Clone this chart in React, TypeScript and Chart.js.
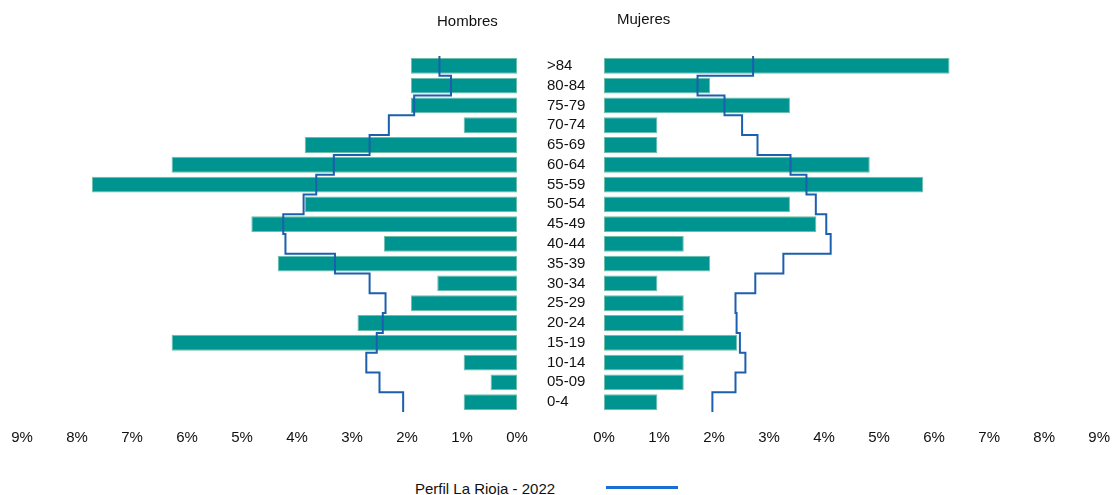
import React, { useEffect, useRef } from "react";
import { Chart, registerables } from "chart.js";

Chart.register(...registerables);

// Age groups, bottom to top
const categories = [
  "0-4", "05-09", "10-14", "15-19", "20-24", "25-29", "30-34", "35-39", "40-44",
  "45-49", "50-54", "55-59", "60-64", "65-69", "70-74", "75-79", "80-84", ">84",
];

// Percentages (bars)
const hombres = [0.97, 0.48, 0.97, 6.28, 2.9, 1.93, 1.45, 4.35, 2.42, 4.83, 3.86, 7.73, 6.28, 3.86, 0.97, 1.93, 1.93, 1.93];
const mujeres = [0.97, 1.45, 1.45, 2.42, 1.45, 1.45, 0.97, 1.93, 1.45, 3.86, 3.38, 5.8, 4.83, 0.97, 0.97, 3.38, 1.93, 6.28];

// Reference profile (La Rioja 2022)
const perfilHombres = [2.07, 2.5, 2.74, 2.55, 2.44, 2.39, 2.68, 3.31, 4.21, 4.25, 3.88, 3.65, 3.33, 2.68, 2.33, 1.87, 1.2, 1.41];
const perfilMujeres = [1.97, 2.39, 2.57, 2.47, 2.41, 2.39, 2.75, 3.26, 4.12, 4.04, 3.85, 3.68, 3.39, 2.79, 2.51, 2.19, 1.7, 2.71];

const xTicks = [0, 1, 2, 3, 4, 5, 6, 7, 8, 9];

const FONT = "'Liberation Sans', Arial, Helvetica, sans-serif";
const BAR_COLOR = "#009490";
const BAR_BORDER = "#6cbfa6";
const LINE_COLOR = "#1c5fae";
const LEGEND_LINE = "#1a6fd4";

function stepPoints(values: number[]) {
  const pts: { x: number; y: number }[] = [];
  values.forEach((v, i) => {
    pts.push({ x: v, y: i - 0.5 });
    pts.push({ x: v, y: i + 0.5 });
  });
  return pts;
}

function makeConfig(side: "left" | "right") {
  const bars = side === "left" ? hombres : mujeres;
  const perfil = side === "left" ? perfilHombres : perfilMujeres;
  return {
    type: "bar" as const,
    data: {
      datasets: [
        {
          type: "line" as const,
          label: "Perfil La Rioja - 2022",
          data: stepPoints(perfil),
          borderColor: LINE_COLOR,
          borderWidth: 2,
          pointRadius: 0,
          tension: 0,
          fill: false,
          order: 0,
          indexAxis: "y" as const,
        },
        {
          type: "bar" as const,
          label: side === "left" ? "Hombres" : "Mujeres",
          data: bars.map((v, i) => ({ x: v, y: i })),
          backgroundColor: BAR_COLOR,
          borderColor: BAR_BORDER,
          borderWidth: 1,
          borderSkipped: false,
          categoryPercentage: 0.8,
          barPercentage: 1,
          order: 1,
        },
      ],
    },
    options: {
      animation: false as const,
      responsive: false,
      indexAxis: "y" as const,
      layout: {
        padding: side === "left"
          ? { left: 22, right: 23, top: 56, bottom: 0 }
          : { left: 7, right: 13, top: 56, bottom: 0 },
      },
      plugins: {
        legend: { display: false },
        tooltip: { enabled: false },
        title: { display: false },
      },
      scales: {
        x: {
          type: "linear" as const,
          min: 0,
          max: 9,
          offset: false,
          reverse: side === "left",
          grid: { display: false, drawTicks: true, tickLength: 14, offset: false },
          border: { display: false },
          afterBuildTicks: (scale: any) => {
            scale.ticks = xTicks.map((v) => ({ value: v }));
          },
          ticks: {
            padding: 3,
            color: "#111",
            autoSkip: false,
            font: { family: FONT, size: 15 },
            maxRotation: 0,
            callback: (v: any) => `${v}%`,
          },
        },
        y: {
          type: "linear" as const,
          min: -0.5,
          max: 17.5,
          offset: false,
          display: side === "right",
          grid: { display: false, drawTicks: false, offset: false },
          border: { display: false },
          afterBuildTicks: (scale: any) => {
            scale.ticks = categories.map((_, i) => ({ value: i }));
          },
          afterFit: (scale: any) => {
            if (side === "right") scale.width = 57;
          },
          ticks: {
            padding: 0,
            autoSkip: false,
            crossAlign: "far" as const,
            color: "#111",
            font: { family: FONT, size: 15 },
            callback: (v: any) => categories[Math.round(v)] ?? "",
          },
        },
      },
    },
  };
}

function Panel({ side, left, width }: { side: "left" | "right"; left: number; width: number }) {
  const ref = useRef<HTMLCanvasElement | null>(null);
  useEffect(() => {
    if (!ref.current) return;
    const chart = new Chart(ref.current, makeConfig(side) as any);
    return () => chart.destroy();
  }, [side]);
  return (
    <canvas
      ref={ref}
      width={width}
      height={450}
      style={{ position: "absolute", left, top: 0, width, height: 450 }}
    />
  );
}

export default function App() {
  const text: React.CSSProperties = {
    position: "absolute",
    fontFamily: FONT,
    fontSize: 15,
    color: "#111",
    lineHeight: "18px",
    whiteSpace: "nowrap",
  };
  return (
    <div style={{ position: "absolute", left: 0, top: 0, width: 1113, height: 495, background: "#fff" }}>
      <Panel side="left" left={0} width={540} />
      <Panel side="right" left={540} width={573} />
      <div style={{ ...text, left: 437, top: 12 }}>Hombres</div>
      <div style={{ ...text, left: 617, top: 10 }}>Mujeres</div>
      <div style={{ ...text, left: 415, top: 480 }}>Perfil La Rioja - 2022</div>
      <div
        style={{
          position: "absolute",
          left: 606,
          top: 486,
          width: 72,
          height: 3,
          background: LEGEND_LINE,
        }}
      />
    </div>
  );
}
